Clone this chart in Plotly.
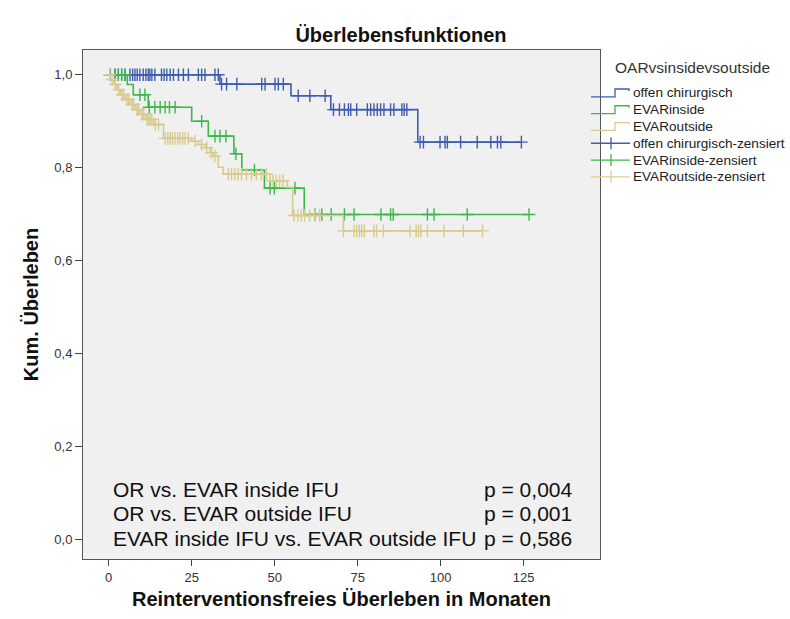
import numpy as np
import plotly.graph_objects as go

# ---------------- data ----------------
groups = ["offen chirurgisch", "EVARinside", "EVARoutside"]

or_event_t = [33.5, 54.9, 66.9, 93.1]
or_event_s = [0.980, 0.955, 0.925, 0.855]
or_cens_t = [0.4, 1.9, 2.9, 3.9, 4.9, 6.4, 7.2, 7.9, 8.6, 9.4, 10.4, 11.2, 11.9, 12.4, 13.0,
             13.9, 15.9, 16.7, 17.5, 18.5, 19.5, 21.0, 22.5, 24.0, 27.0, 28.0, 29.0, 32.0, 33.0,
             34.0, 35.5, 38.6, 46.1, 47.1, 50.1, 51.1, 52.6,
             57.1, 60.6, 65.2,
             67.7, 69.5, 71.0, 72.2, 72.9, 74.7, 77.9, 78.9, 79.9, 80.9, 81.9, 82.9, 84.9, 85.9,
             88.3, 89.0, 89.8,
             93.8, 94.8, 99.8, 101.3, 102.0, 106.0, 111.0, 115.1, 117.1, 118.1, 124.3]

in_event_t = [5.6, 7.4, 11.9, 25.0, 30.0, 37.7, 40.1, 46.9, 58.9]
in_event_s = [0.979, 0.957, 0.930, 0.900, 0.868, 0.830, 0.795, 0.756, 0.699]
in_cens_t = [1.9, 2.9, 3.9, 4.9, 9.4, 10.9, 12.2, 13.9, 15.5, 17.0, 18.3, 20.0, 28.0,
             32.0, 33.5, 35.3, 38.3, 43.9, 48.6, 49.9, 56.1, 62.1, 64.2, 67.0, 71.0, 73.9,
             82.0, 84.9, 85.7, 96.0, 98.0, 108.0, 126.6]

out_event_t = [0.5, 1.5, 2.5, 3.5, 5.0, 6.5, 8.0, 9.5, 11.0, 13.5, 16.5, 25.0, 27.0, 29.0,
               30.5, 31.5, 33.0, 34.5, 48.6, 53.8, 55.4, 70.7]
out_event_s = [0.990, 0.979, 0.968, 0.957, 0.947, 0.936, 0.925, 0.915, 0.904, 0.893, 0.863,
               0.857, 0.850, 0.843, 0.832, 0.825, 0.801, 0.786, 0.772, 0.758, 0.697, 0.664]
out_cens_t = [0.3, 1.0, 2.0, 3.0, 4.0, 4.5, 5.5, 6.0, 7.0, 7.5, 8.5, 9.0, 10.0, 10.5, 11.5,
              12.0, 12.5, 13.0, 14.0, 15.0, 17.0, 17.8, 18.5, 19.2, 20.0, 20.8, 21.5, 22.3,
              23.0, 24.0, 26.0, 28.0, 29.5, 31.0, 32.0, 36.0, 37.0, 38.0, 39.0, 40.0, 41.5,
              43.0, 44.5, 46.0, 47.5, 49.5, 50.5, 51.5, 52.5, 55.8, 57.0, 58.0, 59.0, 60.5,
              62.0, 63.5, 70.7, 73.9, 74.7, 75.5, 76.2, 77.0, 79.9, 80.7, 82.7, 90.8, 92.6,
              93.3, 94.0, 96.0, 101.0, 106.8, 112.6]

colors = ["#3F5DB0", "#3DB84B", "#D8CB8F"]

x_ticks = [0, 25, 50, 75, 100, 125]
y_ticks = [0.0, 0.2, 0.4, 0.6, 0.8, 1.0]
y_tick_labels = ["0,0", "0,2", "0,4", "0,6", "0,8", "1,0"]

tests = ["OR vs. EVAR inside IFU", "OR vs. EVAR outside IFU", "EVAR inside IFU vs. EVAR outside IFU"]
p_values = ["p = 0,004", "p = 0,001", "p = 0,586"]

legend_title = "OARvsinsidevsoutside"
legend_labels = ["offen chirurgisch", "EVARinside", "EVARoutside",
                 "offen chirurgisch-zensiert", "EVARinside-zensiert", "EVARoutside-zensiert"]

# ---------------- figure ----------------
FONT = "Arial, Liberation Sans, sans-serif"
W, H = 790, 619
L, R, T, B = 83, 600, 50, 563

fig = go.Figure()

series = [(or_event_t, or_event_s, or_cens_t),
          (in_event_t, in_event_s, in_cens_t),
          (out_event_t, out_event_s, out_cens_t)]

for (et, es, ct), col, name in zip(series, colors, groups):
    et = np.array(et, float)
    es = np.array(es, float)
    ct = np.array(ct, float)
    t_end = max(et.max(), ct.max())
    xs = np.concatenate([[0.0], et, [t_end]])
    ys = np.concatenate([[1.0], es, [es[-1]]])
    fig.add_trace(go.Scatter(x=xs, y=ys, mode="lines", line=dict(color=col, width=1.6, shape="hv"),
                             name=name, showlegend=False, hoverinfo="skip"))
    idx = np.searchsorted(et, ct, side="right")
    levels = np.concatenate([[1.0], es])
    cy = levels[idx]
    fig.add_trace(go.Scatter(x=ct, y=cy, mode="markers",
                             marker=dict(symbol="cross-thin", size=9,
                                         line=dict(color=col, width=1.4)),
                             name=name + "-zensiert", showlegend=False, hoverinfo="skip"))

def px(x):
    return (x - L) / (R - L)

def py(y):
    return (B - y) / (B - T)

# text block with test results
ann = []
for i, (t, p) in enumerate(zip(tests, p_values)):
    ypx = 493 + i * 24.5
    ann.append(dict(x=px(111), y=py(ypx), xref="paper", yref="paper",
                    text=t, showarrow=False, xanchor="left", yanchor="middle",
                    font=dict(family=FONT, size=21, color="#111")))
    ann.append(dict(x=px(482), y=py(ypx), xref="paper", yref="paper",
                    text=p, showarrow=False, xanchor="left", yanchor="middle",
                    font=dict(family=FONT, size=21, color="#111")))

# custom legend
ann.append(dict(x=px(613), y=py(68), xref="paper", yref="paper", text=legend_title,
                showarrow=False, xanchor="left", yanchor="middle",
                font=dict(family=FONT, size=15.5, color="#333")))
shapes = []
for i, lab in enumerate(legend_labels):
    yc = 93.3 + i * 16.9
    col = colors[i % 3]
    ann.append(dict(x=px(631), y=py(yc), xref="paper", yref="paper", text=lab,
                    showarrow=False, xanchor="left", yanchor="middle",
                    font=dict(family=FONT, size=13.6, color="#222")))
    if i < 3:
        path = (f"M {px(591)},{py(yc+4)} L {px(615)},{py(yc+4)} L {px(615)},{py(yc-4)} "
                f"L {px(629)},{py(yc-4)} L {px(629)},{py(yc-2)}")
        shapes.append(dict(type="path", xref="paper", yref="paper", path=path,
                           line=dict(color=col, width=1.3)))
    else:
        shapes.append(dict(type="line", xref="paper", yref="paper", x0=px(591), x1=px(630),
                           y0=py(yc), y1=py(yc), line=dict(color=col, width=1.3)))
        shapes.append(dict(type="line", xref="paper", yref="paper", x0=px(611), x1=px(611),
                           y0=py(yc - 6), y1=py(yc + 6), line=dict(color=col, width=1.3)))

# axis ranges from pixel geometry
x0val, xscale = 108.7, 3.32
y0px, yscale = 543.0, 468.0
xr = [(L - x0val) / xscale, (R - x0val) / xscale]
yr = [(y0px - B) / yscale, (y0px - T) / yscale]

fig.update_layout(
    width=W, height=H,
    margin=dict(l=L, r=W - R, t=T, b=H - B, pad=0),
    paper_bgcolor="white", plot_bgcolor="#F0F0F0",
    showlegend=False,
    title=dict(text="<b>Überlebensfunktionen</b>", x=401 / W, xanchor="center",
               y=1 - 35 / H, yanchor="middle",
               font=dict(family=FONT, size=20, color="#111")),
    annotations=ann, shapes=shapes,
    xaxis=dict(range=xr, tickvals=x_ticks, ticks="outside", ticklen=6, tickcolor="#444",
               showline=True, linecolor="#555", linewidth=1, mirror=True, showgrid=False,
               zeroline=False, tickfont=dict(family=FONT, size=13, color="#333"),
               title=dict(text="<b>Reinterventionsfreies Überleben in Monaten</b>",
                          font=dict(family=FONT, size=20, color="#111"), standoff=8)),
    yaxis=dict(range=yr, tickvals=y_ticks, ticktext=y_tick_labels, ticks="outside", ticklen=7,
               tickcolor="#444", showline=True, linecolor="#555", linewidth=1, mirror=True,
               showgrid=False, zeroline=False,
               tickfont=dict(family=FONT, size=13, color="#333"),
               title=dict(text="<b>Kum. Überleben</b>",
                          font=dict(family=FONT, size=20, color="#111"), standoff=10)),
)

fig.write_html("out.html")
